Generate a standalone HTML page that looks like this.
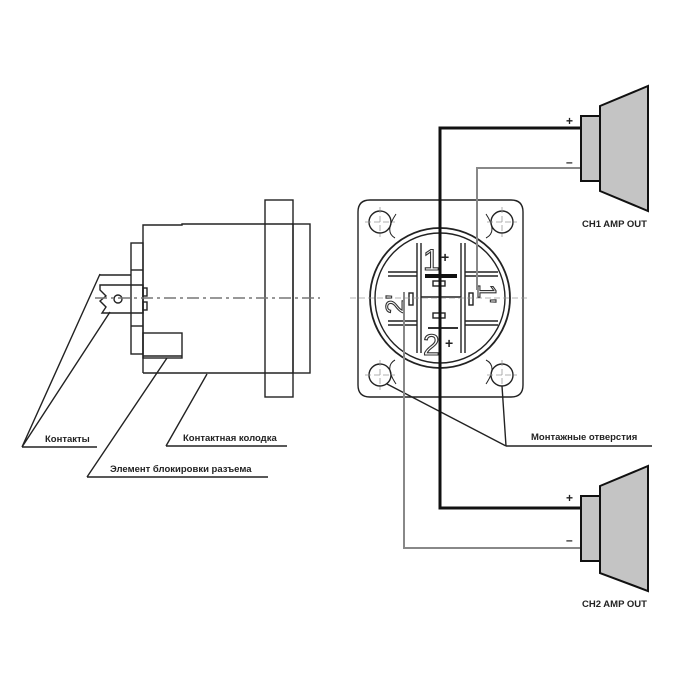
<!DOCTYPE html>
<html><head><meta charset="utf-8"><style>
html,body{margin:0;padding:0;background:#fff;}
svg{display:block;}
text{font-family:"Liberation Sans",sans-serif;font-weight:bold;}
</style></head><body>
<svg width="692" height="692" viewBox="0 0 692 692" xmlns="http://www.w3.org/2000/svg">
<g fill="none" stroke="#222" stroke-width="1.4">
  <rect x="265" y="200" width="28" height="197"/>
  <line x1="265" y1="224" x2="293" y2="224"/>
  <line x1="265" y1="373" x2="293" y2="373"/>
  <rect x="293" y="224" width="17" height="149"/>
  <path d="M143 373 V225 H182 V224 H265"/>
  <line x1="143" y1="373" x2="265" y2="373"/>
  <rect x="131" y="243" width="12" height="111"/>
  <line x1="131" y1="270" x2="143" y2="270"/>
  <line x1="131" y1="326" x2="143" y2="326"/>
  <rect x="143" y="333" width="39" height="25"/>
  <line x1="143" y1="356" x2="182" y2="356"/>
  <path d="M100 285 H143 V313 H102 L106 307 L100 301 L106 296 L100 290 Z"/>
  <circle cx="118" cy="299" r="4"/>
  <line x1="100" y1="275" x2="131" y2="275"/>
  <rect x="143" y="288" width="4" height="8"/>
  <rect x="143" y="302" width="4" height="8"/>
  <line x1="95" y1="298" x2="320" y2="298" stroke-dasharray="12,4,3,4" stroke="#777"/>
  <path d="M22 447 L100 274 M22 447 L110 312 M22 447 H97"/>
  <path d="M87 477 L167 358 M87 477 H268"/>
  <path d="M166 446 L207 374 M166 446 H287"/>
  <path d="M370 200 H511 Q523 200 523 212 V385 Q523 397 511 397 H370 Q358 397 358 385 V212 Q358 200 370 200 Z"/>
  <circle cx="380" cy="222" r="11"/>
  <circle cx="502" cy="222" r="11"/>
  <circle cx="380" cy="375" r="11"/>
  <circle cx="502" cy="375" r="11"/>
  <path d="M396 214 Q384 232 395 238 M486 214 Q498 232 486 238 M396 384 Q384 366 395 360 M486 384 Q498 366 486 360" stroke-width="1"/>
  <circle cx="440" cy="298" r="70" stroke-width="1.8"/>
  <circle cx="440" cy="298" r="65"/>
  <path d="M417 243 V353 M421 243 V353 M461 243 V353 M465 243 V353"/>
  <path d="M388 272 H417 M465 272 H498 M388 325 H417 M465 325 H498 M388 276 H417 M465 276 H498 M388 321 H417 M465 321 H498"/>
  <path d="M421 297 H461"/>
  <rect x="433" y="281" width="12" height="5"/>
  <rect x="433" y="313" width="12" height="5"/>
  <rect x="409" y="293" width="4" height="12"/>
  <rect x="469" y="293" width="4" height="12"/>
  <g stroke="#999" stroke-width="0.8" stroke-dasharray="6,3">
    <line x1="350" y1="298" x2="530" y2="298"/>
    <line x1="365" y1="222" x2="395" y2="222"/><line x1="380" y1="207" x2="380" y2="237"/>
    <line x1="487" y1="222" x2="517" y2="222"/><line x1="502" y1="207" x2="502" y2="237"/>
    <line x1="365" y1="375" x2="395" y2="375"/><line x1="380" y1="360" x2="380" y2="390"/>
    <line x1="487" y1="375" x2="517" y2="375"/><line x1="502" y1="360" x2="502" y2="390"/>
  </g>
  <path d="M387 384 L506 446 M502 386 L506 446 M506 446 H652"/>
</g>
<rect x="425" y="274" width="32" height="4" fill="#111"/>
<rect x="428" y="327" width="30" height="2" fill="#333"/>
<text x="423" y="270" font-size="30" style="font-weight:normal;fill:none;stroke:#333;stroke-width:1.1">1</text>
<text x="441" y="262" font-size="14" style="fill:#222">+</text>
<text x="423" y="355" font-size="30" style="font-weight:normal;fill:none;stroke:#333;stroke-width:1.1">2</text>
<text x="445" y="348" font-size="14" style="fill:#222">+</text>
<text x="0" y="0" font-size="26" style="font-weight:normal;fill:none;stroke:#333;stroke-width:1.1" transform="translate(404,314) rotate(-90)">2'</text>
<text x="0" y="0" font-size="26" style="font-weight:normal;fill:none;stroke:#333;stroke-width:1.1" transform="translate(478,284) rotate(90)">1'</text>
<g fill="none">
  <path d="M581 128 H440 V508 H581" stroke="#111" stroke-width="3"/>
  <path d="M581 168 H477 V290" stroke="#888" stroke-width="2"/>
  <path d="M404 292 V548 H581" stroke="#888" stroke-width="2"/>
</g>
<g fill="#c4c4c4" stroke="#111" stroke-width="2">
  <rect x="581" y="116" width="19" height="65"/>
  <path d="M600 106 L648 86 V211 L600 191 Z"/>
  <rect x="581" y="496" width="19" height="65"/>
  <path d="M600 486 L648 466 V591 L600 573 Z"/>
</g>
<g style="fill:#222">
<text x="566" y="125" font-size="12">+</text>
<text x="566" y="166" font-size="12">–</text>
<text x="566" y="502" font-size="12">+</text>
<text x="566" y="544" font-size="12">–</text>
<text x="582" y="227" font-size="9.5">CH1 AMP OUT</text>
<text x="582" y="607" font-size="9.5">CH2 AMP OUT</text>
<text x="45" y="442" font-size="9.5">Контакты</text>
<text x="183" y="441" font-size="9.5">Контактная колодка</text>
<text x="110" y="472" font-size="9.5">Элемент блокировки разъема</text>
<text x="531" y="440" font-size="9.5">Монтажные отверстия</text>
</g>
</svg>
</body></html>
